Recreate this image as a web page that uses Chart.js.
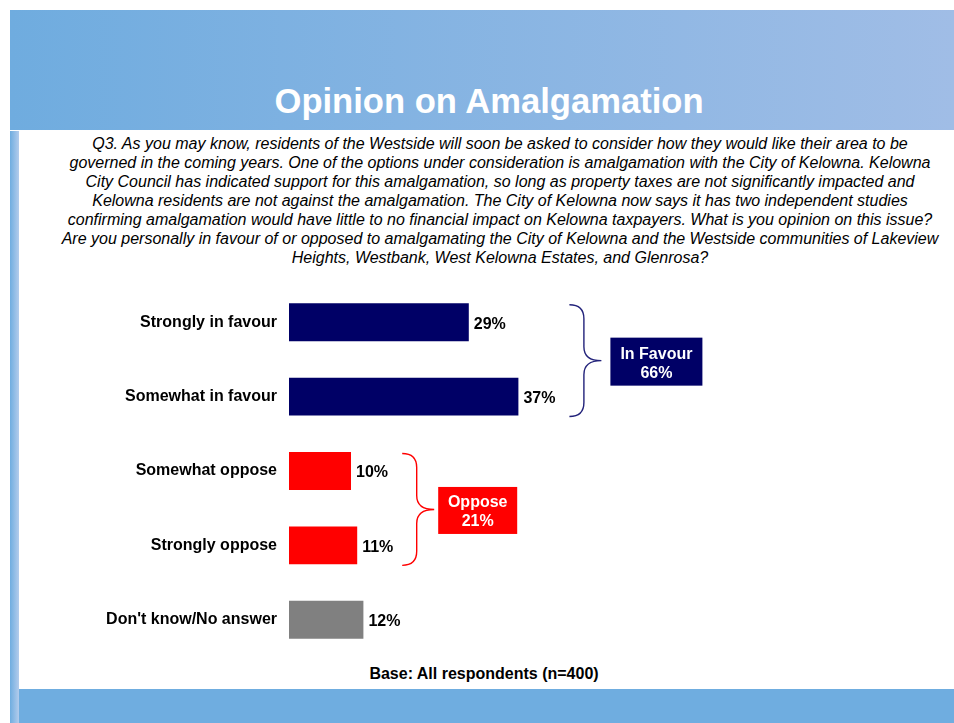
<!DOCTYPE html>
<html><head><meta charset="utf-8">
<script src="https://cdn.jsdelivr.net/npm/chart.js@4/dist/chart.umd.min.js"></script>
<style>
html,body{margin:0;padding:0;background:#fff;}
#page{position:relative;width:954px;height:723px;overflow:hidden;font-family:"Liberation Sans",Arial,Helvetica,sans-serif;}
#header{position:absolute;left:10px;top:10px;width:944px;height:120px;background:linear-gradient(to right,#6FACDF,#A0BDE6);}
#strip{position:absolute;left:10px;top:131px;width:9px;height:592px;background:linear-gradient(to right,#6FADE0,#B3CCEC);}
#footer{position:absolute;left:19px;top:689px;width:935px;height:34px;background:#6FADE0;}
#title{position:absolute;left:0;width:978px;top:81px;text-align:center;color:#fff;font-weight:bold;font-size:34.6px;line-height:40px;white-space:nowrap;}
#question{position:absolute;left:0;width:1000px;top:134px;text-align:center;color:#000;font-style:italic;font-size:16px;line-height:19px;white-space:nowrap;}
#base{position:absolute;left:0;width:968px;top:664px;text-align:center;color:#000;font-weight:bold;font-size:16px;line-height:20px;white-space:nowrap;}
#c{position:absolute;left:0;top:0;}
</style>
</head><body>
<div id="page">
  <div id="header"></div>
  <div id="strip"></div>
  <div id="footer"></div>
  <div id="title">Opinion on Amalgamation</div>
  <div id="question">Q3. As you may know, residents of the Westside will soon be asked to consider how they would like their area to be<br>governed in the coming years. One of the options under consideration is amalgamation with the City of Kelowna. Kelowna<br>City Council has indicated support for this amalgamation, so long as property taxes are not significantly impacted and<br>Kelowna residents are not against the amalgamation. The City of Kelowna now says it has two independent studies<br>confirming amalgamation would have little to no financial impact on Kelowna taxpayers. What is you opinion on this issue?<br>Are you personally in favour of or opposed to amalgamating the City of Kelowna and the Westside communities of Lakeview<br>Heights, Westbank, West Kelowna Estates, and Glenrosa?</div>
  <div id="base">Base: All respondents (n=400)</div>
  <canvas id="c" width="954" height="723"></canvas>
</div>
<script>
const categories = ["Strongly in favour", "Somewhat in favour", "Somewhat oppose", "Strongly oppose", "Don't know/No answer"];
const values = [29, 37, 10, 11, 12];
const groupNames = ["In Favour", "Oppose"];
const groupFrom = [0, 2];
const groupTo = [1, 3];

const barColors = ["#000066", "#000066", "#FF0000", "#FF0000", "#808080"];
const groupStyle = [
  {color: "#000066", brace: "#22227A", gap: 51, boxGap: 9, boxW: 92, boxH: 48},
  {color: "#FF0000", brace: "#FF0000", gap: 45, boxGap: 4, boxW: 79, boxH: 47}
];
const FONT = '"Liberation Sans", Arial, Helvetica, sans-serif';

const annot = {
  id: 'annot',
  afterDatasetsDraw(chart) {
    const ctx = chart.ctx;
    const meta = chart.getDatasetMeta(0);
    const xs = chart.scales.x;
    ctx.save();
    ctx.font = 'bold 16px ' + FONT;
    ctx.fillStyle = '#000';
    ctx.textBaseline = 'middle';
    ctx.textAlign = 'left';
    meta.data.forEach((bar, i) => {
      const p = bar.getProps(['x', 'y'], true);
      ctx.fillText(values[i] + '%', p.x + 5, p.y + 2);
    });
    groupNames.forEach((name, g) => {
      const st = groupStyle[g];
      const a = meta.data[groupFrom[g]].getProps(['y', 'height'], true);
      const b = meta.data[groupTo[g]].getProps(['y', 'height'], true);
      const top = a.y - a.height / 2 + 1.5;
      const bottom = b.y + b.height / 2 + 1;
      const mid = (top + bottom) / 2;
      let maxVal = 0, sum = 0;
      for (let i = groupFrom[g]; i <= groupTo[g]; i++) { maxVal = Math.max(maxVal, values[i]); sum += values[i]; }
      const x0 = xs.getPixelForValue(maxVal) + st.gap;
      const x1 = x0 + 14.5, x2 = x0 + 32, r = 14;
      ctx.beginPath();
      ctx.strokeStyle = st.brace;
      ctx.lineWidth = 1.4;
      ctx.moveTo(x0, top);
      ctx.quadraticCurveTo(x1, top, x1, top + r);
      ctx.lineTo(x1, mid - r);
      ctx.quadraticCurveTo(x1, mid, x2, mid);
      ctx.quadraticCurveTo(x1, mid, x1, mid + r);
      ctx.lineTo(x1, bottom - r);
      ctx.quadraticCurveTo(x1, bottom, x0, bottom);
      ctx.stroke();
      const bx = x2 + st.boxGap;
      const by = mid + 1 - st.boxH / 2;
      ctx.fillStyle = st.color;
      ctx.fillRect(bx, by, st.boxW, st.boxH);
      ctx.fillStyle = '#fff';
      ctx.textAlign = 'center';
      ctx.font = 'bold 16px ' + FONT;
      ctx.fillText(name, bx + st.boxW / 2, mid - 6.5);
      ctx.fillText(sum + '%', bx + st.boxW / 2, mid + 12.5);
      ctx.textAlign = 'left';
    });
    ctx.restore();
  }
};

new Chart(document.getElementById('c'), {
  type: 'bar',
  data: {
    labels: categories,
    datasets: [{
      data: values,
      backgroundColor: barColors,
      borderWidth: 0,
      barPercentage: 0.51,
      categoryPercentage: 1.0
    }]
  },
  options: {
    indexAxis: 'y',
    responsive: false,
    devicePixelRatio: 1,
    animation: false,
    layout: { padding: { left: 0, right: 45, top: 285, bottom: 66 } },
    plugins: { legend: { display: false }, tooltip: { enabled: false }, title: { display: false } },
    scales: {
      x: { display: false, min: 0, max: 100 },
      y: {
        grid: { display: false, drawTicks: false },
        border: { display: false },
        ticks: { color: '#000', padding: 12, font: { family: FONT, size: 16, weight: 'bold' } },
        afterFit(scale) { scale.width = 289; }
      }
    }
  },
  plugins: [annot]
});
</script>
</body></html>
